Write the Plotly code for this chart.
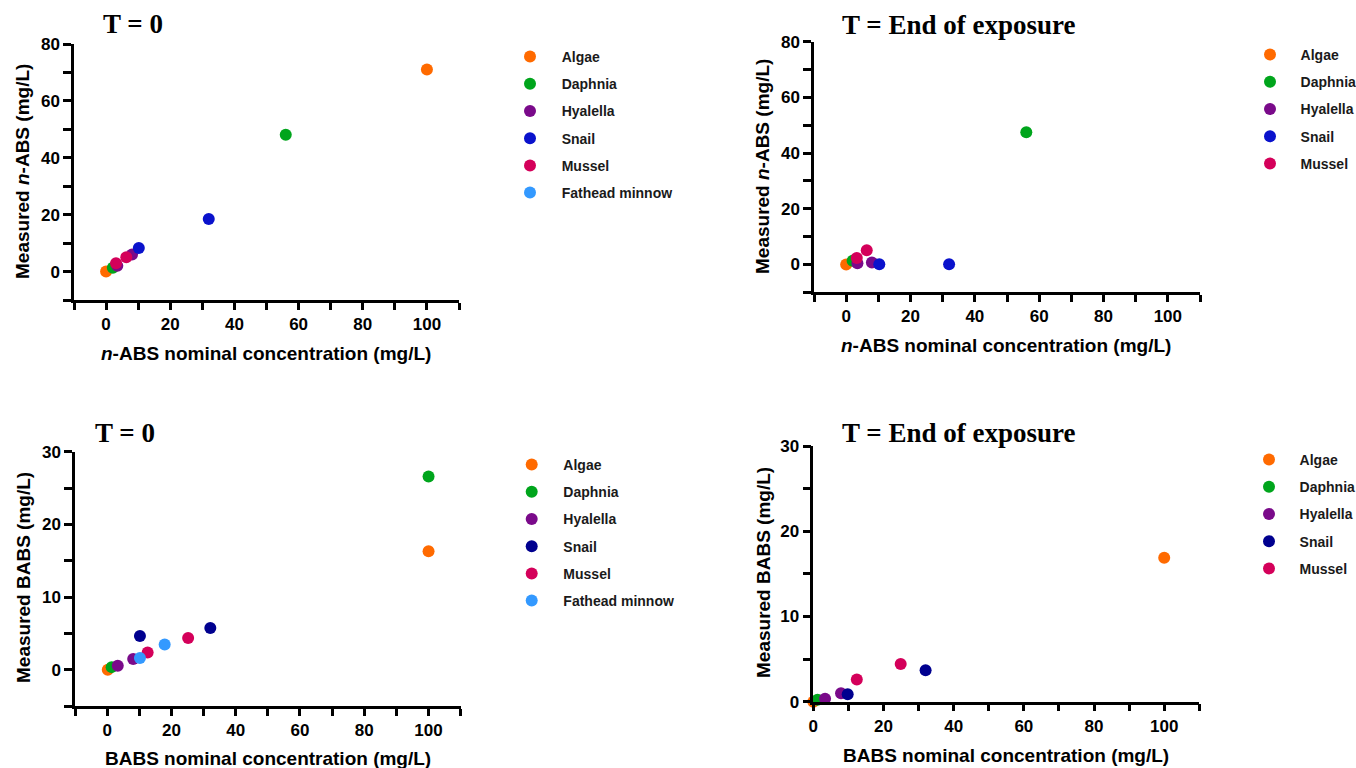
import plotly.graph_objects as go

W, H = 1356, 768

species = ["Algae", "Daphnia", "Hyalella", "Snail", "Mussel", "Fathead minnow"]

# Panel A: n-ABS, T = 0  (Fathead minnow listed in legend but no visible point)
a_x = {"Algae": [0, 100], "Daphnia": [2.1, 56], "Hyalella": [3.5, 8.1],
       "Snail": [10.2, 32], "Mussel": [3.1, 6.3], "Fathead minnow": [None]}
a_y = {"Algae": [0, 71], "Daphnia": [1.3, 48.1], "Hyalella": [2.0, 6.0],
       "Snail": [8.3, 18.5], "Mussel": [2.9, 5.0], "Fathead minnow": [None]}

# Panel B: n-ABS, T = End of exposure
b_x = {"Algae": [0], "Daphnia": [2.0, 56], "Hyalella": [3.5, 8.0],
       "Snail": [10.3, 32], "Mussel": [3.3, 6.4]}
b_y = {"Algae": [0], "Daphnia": [1.3, 47.5], "Hyalella": [0.4, 0.7],
       "Snail": [0.1, 0.1], "Mussel": [2.3, 5.1]}

# Panel C: BABS, T = 0
c_x = {"Algae": [0.2, 100], "Daphnia": [1.4, 100], "Hyalella": [3.3, 8.1],
       "Snail": [10.2, 32.1], "Mussel": [12.6, 25.2], "Fathead minnow": [10.2, 17.9]}
c_y = {"Algae": [0, 16.3], "Daphnia": [0.35, 26.6], "Hyalella": [0.55, 1.46],
       "Snail": [4.65, 5.75], "Mussel": [2.37, 4.37], "Fathead minnow": [1.6, 3.46]}

# Panel D: BABS, T = End of exposure
d_x = {"Algae": [0, 100], "Daphnia": [1.2], "Hyalella": [3.35, 7.9],
       "Snail": [9.8, 32.0], "Mussel": [12.4, 24.9]}
d_y = {"Algae": [0, 16.9], "Daphnia": [0.22], "Hyalella": [0.36, 1.0],
       "Snail": [0.87, 3.7], "Mussel": [2.6, 4.42]}

colors_top = {"Algae": "#FF6A00", "Daphnia": "#00A51C", "Hyalella": "#7A0A8A",
              "Snail": "#0A12CC", "Mussel": "#D4005A", "Fathead minnow": "#3399FF"}
colors_bot = dict(colors_top, Snail="#00008F")

titles = ["T = 0", "T = End of exposure", "T = 0", "T = End of exposure"]
x_titles = ["<i>n</i>-ABS nominal concentration (mg/L)", "<i>n</i>-ABS nominal concentration (mg/L)",
            "BABS nominal concentration (mg/L)", "BABS nominal concentration (mg/L)"]
y_titles = ["Measured <i>n</i>-ABS (mg/L)", "Measured <i>n</i>-ABS (mg/L)",
            "Measured BABS (mg/L)", "Measured BABS (mg/L)"]

# pixel layout: plot boxes (left, right, top, bottom)
boxes = [(74, 459, 44, 300), (814, 1200, 41.7, 292.3),
         (75, 460.7, 451.7, 706), (813.3, 1199.3, 446, 701.7)]
x_ranges = [[-10, 110], [-10, 110], [-10, 110], [0, 110]]
y_ranges = [[-10, 80], [-10, 80], [-5, 30], [0, 30]]
y_dticks = [20, 20, 10, 10]
y_minor = [10, 10, 5, 5]
legend_pos = [(510, 41), (1250, 39), (511.7, 449), (1249, 444)]
legend_pad = ["\u00a0\u00a0\u00a0", "\u00a0\u00a0\u2009", "\u00a0\u00a0\u00a0", "\u00a0\u00a0\u2009"]
title_pos = [(133, 24), (958, 25), (125, 433), (958, 433)]
xtitle_pos = [(266, 353), (1006, 345), (268, 758), (1006, 755)]
ytitle_pos = [(22, 172), (763, 167), (23, 578), (763, 573)]

panels = [(a_x, a_y, colors_top), (b_x, b_y, colors_top),
          (c_x, c_y, colors_bot), (d_x, d_y, colors_bot)]


def fx(sx):
    return sx / W


def fy(sy):
    return 1 - sy / H


FAM = "Liberation Sans, Arial"
TICKFONT = dict(family=FAM, size=17, color="black")
LBLFONT = dict(family=FAM, size=19, color="black")
fig = go.Figure()

for i, (px, py, cols) in enumerate(panels):
    n = "" if i == 0 else str(i + 1)
    leg = "legend" if i == 0 else f"legend{i + 1}"
    for sp in species:
        if sp not in px:
            continue
        fig.add_trace(go.Scatter(
            x=px[sp], y=py[sp], mode="markers",
            name="<b>" + legend_pad[i] + sp + "</b>",
            marker=dict(size=12, color=cols[sp]),
            xaxis="x" + n, yaxis="y" + n, legend=leg, legendgroup=f"{sp}{i}",
            cliponaxis=False, showlegend=True))

layout = dict(width=W, height=H, margin=dict(l=0, r=0, t=0, b=0, autoexpand=False),
              plot_bgcolor="white", paper_bgcolor="white", annotations=[],
              font=dict(family=FAM))

for i in range(4):
    n = "" if i == 0 else str(i + 1)
    l, r, t, b = boxes[i]
    xa = dict(domain=[fx(l), fx(r)], range=x_ranges[i], anchor="y" + n,
              showline=True, linecolor="black", linewidth=2.5, showgrid=False,
              zeroline=False, ticks="outside", ticklen=7, tickwidth=2.5,
              tickcolor="black", dtick=20, tick0=0, tickfont=TICKFONT,
              tickprefix="<b>", ticksuffix="</b>", automargin=False,
              minor=dict(dtick=10, tick0=0, ticks="outside", ticklen=7,
                         tickwidth=2.5, tickcolor="black", showgrid=False),
              fixedrange=True)
    ya = dict(domain=[fy(b), fy(t)], range=y_ranges[i], anchor="x" + n,
              showline=True, linecolor="black", linewidth=2.5, showgrid=False,
              zeroline=False, ticks="outside", ticklen=8, tickwidth=2.5,
              tickcolor="black", dtick=y_dticks[i], tick0=0, tickfont=TICKFONT,
              tickprefix="<b>", ticksuffix="</b>", automargin=False,
              minor=dict(dtick=y_minor[i], tick0=0, ticks="outside", ticklen=8,
                         tickwidth=2.5, tickcolor="black", showgrid=False),
              fixedrange=True)
    layout["xaxis" + n] = xa
    layout["yaxis" + n] = ya
    lx, ly = legend_pos[i]
    layout["legend" if i == 0 else f"legend{i + 1}"] = dict(
        x=lx / W, y=1 - ly / H, xref="container", yref="container",
        xanchor="left", yanchor="top",
        bgcolor="rgba(0,0,0,0)", traceorder="grouped", tracegroupgap=6,
        font=dict(family=FAM, size=14, color="#1a1a1a"))
    tx, ty = title_pos[i]
    layout["annotations"].append(dict(
        text="<b>" + titles[i] + "</b>", x=fx(tx), y=fy(ty),
        xref="paper", yref="paper", xanchor="center", yanchor="middle",
        showarrow=False,
        font=dict(family="Liberation Serif, Times New Roman", size=27, color="black")))
    ax_, ay_ = xtitle_pos[i]
    layout["annotations"].append(dict(
        text="<b>" + x_titles[i] + "</b>", x=fx(ax_), y=fy(ay_),
        xref="paper", yref="paper", xanchor="center", yanchor="middle",
        showarrow=False, font=LBLFONT))
    bx_, by_ = ytitle_pos[i]
    layout["annotations"].append(dict(
        text="<b>" + y_titles[i] + "</b>", x=fx(bx_), y=fy(by_), textangle=-90,
        xref="paper", yref="paper", xanchor="center", yanchor="middle",
        showarrow=False, font=LBLFONT))

fig.update_layout(**layout)
# remove the default page margin so the figure fills the window exactly
fig.write_html("out.html", config={"displayModeBar": False},
               post_script="document.body.style.margin='0';document.body.style.overflow='hidden';")
